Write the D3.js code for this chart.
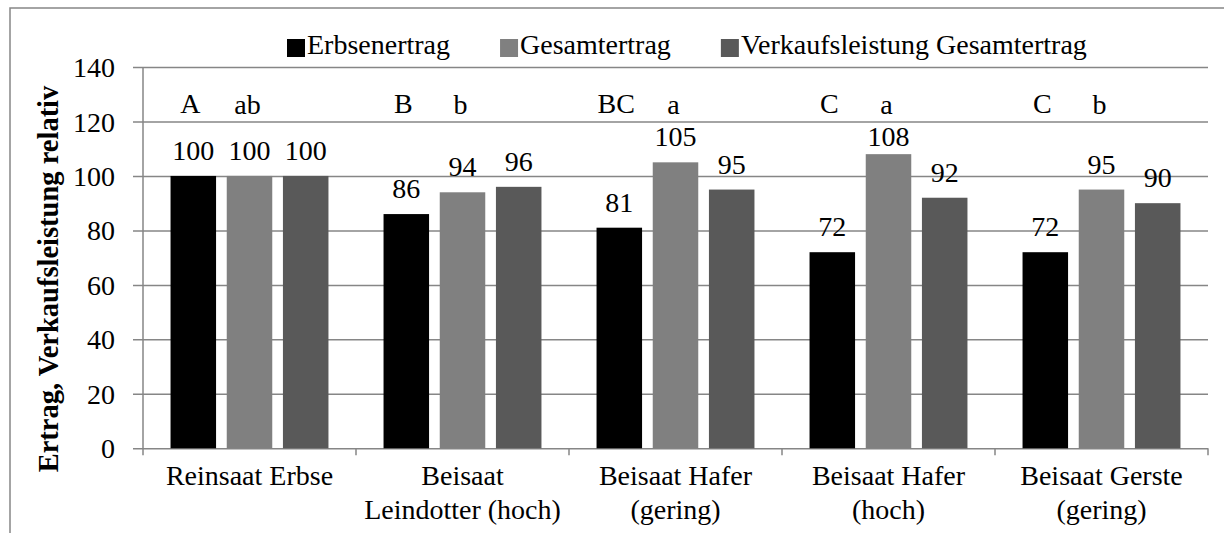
<!DOCTYPE html>
<html>
<head>
<meta charset="utf-8">
<script src="https://cdn.jsdelivr.net/npm/d3@7"></script>
</head>
<body style="margin:0;background:#fff">
<svg id="chart" width="1224" height="533" style="display:block"></svg>
<script>
const categories = [
  ["Reinsaat Erbse"],
  ["Beisaat", "Leindotter (hoch)"],
  ["Beisaat Hafer", "(gering)"],
  ["Beisaat Hafer", "(hoch)"],
  ["Beisaat Gerste", "(gering)"]
];
const seriesNames = ["Erbsenertrag", "Gesamtertrag", "Verkaufsleistung Gesamtertrag"];
const erbsenertrag = [100, 86, 81, 72, 72];
const gesamtertrag = [100, 94, 105, 108, 95];
const verkaufsleistung = [100, 96, 95, 92, 90];
const lettersErbse = ["A", "B", "BC", "C", "C"];
const lettersGesamt = ["ab", "b", "a", "a", "b"];
const yTicks = [0, 20, 40, 60, 80, 100, 120, 140];
const colors = ["#000000", "#808080", "#595959"];
const yTitle = "Ertrag, Verkaufsleistung relativ";

(function () {
const seriesValues = [erbsenertrag, gesamtertrag, verkaufsleistung];
const catKeys = categories.map(c => c.join(" "));
const FONT = '"Liberation Serif"';

const svg = d3.select("#chart");
const pLeft = 143, pRight = 1208, pTop = 67, pBottom = 448.3;
const gridColor = "#868686";
const fs = 28;

function txt(sel) {
  return sel.style("font-family", FONT).style("font-size", fs + "px").attr("fill", "#000");
}

// outer border
svg.append("rect").attr("x", 10).attr("y", 8).attr("width", 1240).attr("height", 560)
  .attr("fill", "none").attr("stroke", gridColor).attr("stroke-width", 1.5);

const y = d3.scaleLinear().domain([0, 140]).range([pBottom, pTop]);
const x0 = d3.scaleBand().domain(catKeys).range([pLeft, pRight]).padding(0);
const x1 = d3.scaleBand().domain(seriesNames).range([0, x0.bandwidth()])
  .paddingInner(0.19).paddingOuter(0.49);

// gridlines + y ticks
const yAxis = d3.axisLeft(y).tickValues(yTicks).tickSize(pRight - pLeft + 10).tickSizeOuter(0).tickPadding(18);
const gy = svg.append("g").attr("transform", `translate(${pRight},0)`).call(yAxis)
  .attr("font-family", null).attr("font-size", null);
gy.select(".domain").remove();
gy.selectAll(".tick line").attr("stroke", gridColor).attr("stroke-width", 1.5);
txt(gy.selectAll(".tick text")).attr("x", -(pRight - 115)).attr("dy", "0.34em")
  .attr("text-anchor", "end");

// y axis line
svg.append("line").attr("x1", pLeft).attr("x2", pLeft).attr("y1", pTop).attr("y2", pBottom)
  .attr("stroke", gridColor).attr("stroke-width", 1.5);

// x axis category ticks
const xTickPos = catKeys.map(k => x0(k)).concat([pRight]);
svg.selectAll(".xtick").data(xTickPos).enter().append("line")
  .attr("x1", d => d).attr("x2", d => d).attr("y1", pBottom).attr("y2", pBottom + 7)
  .attr("stroke", gridColor).attr("stroke-width", 1.5);

// label rows (significance letters) and minimum value-label position below them
const letterY = 113;
const minLabelY = letterY + 33;

// bars
const groups = svg.selectAll(".grp").data(catKeys).enter().append("g")
  .attr("transform", d => `translate(${x0(d)},0)`);
groups.each(function (k, i) {
  const g = d3.select(this);
  seriesNames.forEach((s, j) => {
    const v = seriesValues[j][i];
    g.append("rect").attr("x", x1(s)).attr("width", x1.bandwidth())
      .attr("y", y(v)).attr("height", y(0) - y(v)).attr("fill", colors[j]);
    txt(g.append("text")).attr("x", x1(s) + x1.bandwidth() / 2)
      .attr("y", Math.max(y(v) - 16, minLabelY))
      .attr("text-anchor", "middle").text(v);
  });
  txt(g.append("text")).attr("x", x1(seriesNames[0]) + x1.bandwidth() / 2 - 3).attr("y", letterY)
    .attr("text-anchor", "middle").text(lettersErbse[i]);
  txt(g.append("text")).attr("x", x1(seriesNames[1]) + x1.bandwidth() / 2 - 2).attr("y", letterY + 1)
    .attr("text-anchor", "middle").text(lettersGesamt[i]);
  // category labels
  const t = txt(g.append("text")).attr("text-anchor", "middle");
  categories[i].forEach((line, li) => {
    t.append("tspan").attr("x", x0.bandwidth() / 2).attr("y", 485 + li * 33.5).text(line);
  });
});

// y axis title
txt(svg.append("text")).attr("transform", "translate(58,279) rotate(-90)")
  .attr("text-anchor", "middle").style("font-weight", "bold").style("font-size", "28.5px")
  .text(yTitle);

// legend
const leg = svg.append("g");
let lx = 287;
seriesNames.forEach((s, j) => {
  leg.append("rect").attr("x", lx).attr("y", 39).attr("width", 18).attr("height", 18).attr("fill", colors[j]);
  const t = txt(leg.append("text")).attr("x", lx + 20).attr("y", 54).text(s);
  lx += 20 + t.node().getComputedTextLength() + 50;
});
})();
</script>
</body>
</html>
